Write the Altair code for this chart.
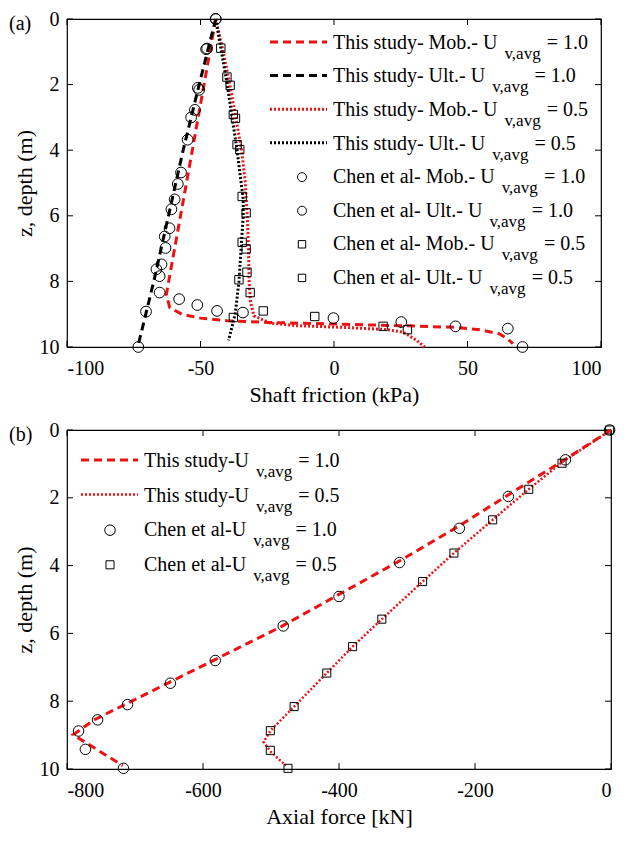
import altair as alt
import pandas as pd

FONT = "Liberation Serif"
RED = "#ee1111"
BLACK = "#000000"

# ---------------- Panel (a): shaft friction ----------------
a_xticks = [-100, -50, 0, 50, 100]
a_zticks = [0, 2, 4, 6, 8, 10]

a_mob10_x = [-44.3, -53.5, -62.8, -61.5, -57, -50, -40, -25, 0, 25, 45, 55, 62, 65, 67]
a_mob10_z = [0, 4.2, 8.4, 8.8, 9.0, 9.12, 9.2, 9.25, 9.3, 9.35, 9.4, 9.48, 9.6, 9.75, 9.9]

a_ult10_x = [-44.3, -50.5, -56.5, -62, -67.5, -73.5]
a_ult10_z = [0, 2, 4, 6, 8, 10]

a_mob05_x = [-44.3, -41.5, -39, -36.8, -34.6, -33.2, -32.5, -32, -31.8, -31.3, -30, -24, -14, 3, 20, 26, 31, 34]
a_mob05_z = [0, 1, 2, 3, 4, 5, 6, 7, 8, 8.6, 9.05, 9.27, 9.35, 9.4, 9.47, 9.55, 9.8, 10]

a_ult05_x = [-44.3, -40, -36.3, -34, -34, -34.8, -35.6, -37, -39.5]
a_ult05_z = [0, 2, 4, 5.5, 6, 7, 8, 9, 9.8]

a_chen_mob10_x = [-44.3, -47.5, -51, -53.5, -57.3, -60.9, -63.1, -65.3, -65.3, -58, -51.2, -43.8, -34.1, -0.2, 25.2, 45.5, 65.1, 70.6]
a_chen_mob10_z = [0, 0.9, 2.1, 3.0, 4.68, 5.8, 6.98, 7.84, 8.34, 8.54, 8.72, 8.9, 8.95, 9.12, 9.24, 9.37, 9.44, 10]

a_chen_ult10_x = [-44.3, -47.9, -50.5, -52.1, -54.8, -58.5, -59.7, -61.6, -63.4, -64.6, -66.5, -70.4, -73.3]
a_chen_ult10_z = [0, 0.92, 2.16, 2.77, 3.68, 5.03, 5.5, 6.38, 6.63, 7.48, 7.63, 8.92, 10]

a_chen_mob05_x = [-42.4, -38.9, -36.9, -35.3, -32.9, -32.9, -32.6, -31.4, -26.5, -7.2, 18.4, 27.5]
a_chen_mob05_z = [0.89, 2.02, 3.03, 3.98, 5.91, 7.01, 7.72, 8.34, 8.9, 9.07, 9.37, 9.47]

a_chen_ult05_x = [-40.1, -37.7, -36.3, -34.4, -34.4, -35.6, -37.7]
a_chen_ult05_z = [1.77, 2.91, 3.83, 5.41, 6.81, 7.95, 9.1]

a_series = ["a_mob10", "a_ult10", "a_mob05", "a_ult05"]
a_main = ["This study- Mob.- U", "This study- Ult.- U", "This study- Mob.- U", "This study- Ult.- U",
          "Chen et al- Mob.- U", "Chen et al- Ult.- U", "Chen et al- Mob.- U", "Chen et al- Ult.- U"]
a_tail = ["= 1.0", "= 1.0", "= 0.5", "= 0.5", "= 1.0", "= 1.0", "= 0.5", "= 0.5"]

# ---------------- Panel (b): axial force ----------------
b_xticks = [-800, -600, -400, -200, 0]
b_zticks = [0, 2, 4, 6, 8, 10]

b_u10_x = [0, -70, -150, -225, -310, -400, -485, -580, -650, -710, -760, -791, -774, -718]
b_u10_z = [0, 0.9, 1.9, 2.85, 3.85, 4.85, 5.8, 6.75, 7.45, 8.05, 8.55, 8.99, 9.2, 9.9]

b_u05_x = [0, -72, -121, -174, -231, -277, -337, -380, -418, -466, -500, -511, -500, -478]
b_u05_z = [0, 0.95, 1.75, 2.65, 3.63, 4.47, 5.58, 6.39, 7.17, 8.16, 8.85, 9.2, 9.5, 9.9]

b_chen10_x = [-2, -67, -151, -223, -311, -400, -482, -582, -648, -711, -755, -783, -773, -717]
b_chen10_z = [0, 0.88, 1.96, 2.9, 3.91, 4.91, 5.78, 6.8, 7.47, 8.1, 8.55, 8.88, 9.42, 9.98]

b_chen05_x = [-2, -72, -121, -174, -231, -277, -337, -380, -418, -466, -501, -501, -475]
b_chen05_z = [0, 0.98, 1.75, 2.65, 3.63, 4.47, 5.58, 6.39, 7.17, 8.16, 8.87, 9.45, 9.98]

b_series = ["b_u10", "b_u05"]
b_main = ["This study-U", "This study-U", "Chen et al-U", "Chen et al-U"]
b_tail = ["= 1.0", "= 0.5", "= 1.0", "= 0.5"]

SUB = "v,avg"

# ---------------- helpers ----------------
TW = {' ': 250, '-': 333, '.': 250, ',': 250, '=': 564, 'A': 722, 'C': 667, 'M': 889, 'T': 611,
      'U': 722, 'a': 444, 'b': 500, 'd': 500, 'e': 444, 'h': 500, 'i': 278, 'l': 278, 'n': 500,
      'o': 500, 's': 389, 't': 278, 'u': 500, 'y': 500, 'v': 500, 'g': 500}


def tw(s, fs):
    return sum(TW.get(c, 500) for c in s) / 1000.0 * fs


FS_MAIN, FS_SUB = 20, 17


def lines_df(xs_list, zs_list, names):
    rows = []
    for xs, zs, n in zip(xs_list, zs_list, names):
        for i, (x, z) in enumerate(zip(xs, zs)):
            rows.append({"x": x, "z": z, "series": n, "i": i})
    return pd.DataFrame(rows)


def pts_df(xs_list, zs_list):
    rows = []
    for xs, zs in zip(xs_list, zs_list):
        for x, z in zip(xs, zs):
            rows.append({"x": x, "z": z})
    return pd.DataFrame(rows)


def legend_text(mains, tails, x0, y0, dy):
    main_rows, sub_rows = [], []
    for r, (m, t) in enumerate(zip(mains, tails)):
        yb = y0 + r * dy
        sx = x0 + tw(m, FS_MAIN) + 7
        tx = sx + tw(SUB, FS_SUB) + tw(" ", FS_MAIN)
        main_rows.append({"px": x0, "py": yb, "txt": m})
        main_rows.append({"px": tx, "py": yb, "txt": t})
        sub_rows.append({"px": sx, "py": yb + 10, "txt": SUB})
    return pd.DataFrame(main_rows), pd.DataFrame(sub_rows)


AX = dict(labelFont=FONT, labelFontSize=20, labelColor=BLACK, titleFont=FONT, titleFontSize=22,
          titleFontWeight="normal", titleColor=BLACK, domain=False, ticks=False, grid=False,
          labelExpr="toString(datum.value)")


def panel(W, H, xdom, xticks, zticks, xtitle, line_data, series, colors, dashes, widths,
          circ, sq, leg_lines, leg_circ, leg_sq, leg_main, leg_sub, tag, msize_c, msize_s,
          lmsize_c, lmsize_s):
    xs = alt.Scale(domain=xdom, nice=False, zero=False)
    ys = alt.Scale(domain=[0, 10], reverse=True, nice=False, zero=False)
    xaxis = alt.Axis(values=xticks, title=xtitle, labelPadding=11, titlePadding=6, **AX)
    yaxis = alt.Axis(values=zticks, title="z, depth (m)", labelPadding=8, titlePadding=3, **AX)
    X = lambda: alt.X("x:Q", scale=xs, axis=xaxis)
    Y = lambda: alt.Y("z:Q", scale=ys, axis=yaxis)
    col = alt.Color("series:N", scale=alt.Scale(domain=series, range=colors), legend=None)
    dash = alt.StrokeDash("series:N", scale=alt.Scale(domain=series, range=dashes), legend=None)
    wid = alt.StrokeWidth("series:N", scale=alt.Scale(domain=series, range=widths), legend=None)

    lines = alt.Chart(line_data).mark_line(strokeCap="butt").encode(
        x=X(), y=Y(), color=col, strokeDash=dash, strokeWidth=wid, order="i:Q")
    circles = alt.Chart(circ).mark_point(shape="circle", filled=False, color=BLACK,
                                         strokeWidth=1, size=msize_c, opacity=1).encode(x=X(), y=Y())
    squares = alt.Chart(sq).mark_point(shape="square", filled=False, color=BLACK,
                                       strokeWidth=1, size=msize_s, opacity=1).encode(x=X(), y=Y())

    xt = pd.DataFrame({"x": xticks})
    zt = pd.DataFrame({"z": zticks})
    tk = dict(color=BLACK, strokeWidth=1)
    t1 = alt.Chart(xt).mark_rule(**tk).encode(x=X(), y=alt.value(0), y2=alt.value(6))
    t2 = alt.Chart(xt).mark_rule(**tk).encode(x=X(), y=alt.value(H - 6), y2=alt.value(H))
    t3 = alt.Chart(zt).mark_rule(**tk).encode(y=Y(), x=alt.value(0), x2=alt.value(6))
    t4 = alt.Chart(zt).mark_rule(**tk).encode(y=Y(), x=alt.value(W - 6), x2=alt.value(W))

    PX = lambda f: alt.X(f, scale=None, axis=None)
    PY = lambda f: alt.Y(f, scale=None, axis=None)
    lg_lines = alt.Chart(leg_lines).mark_rule(strokeCap="butt").encode(
        x=PX("x1:Q"), x2="x2:Q", y=PY("py:Q"), color=col, strokeDash=dash, strokeWidth=wid)
    lg_c = alt.Chart(leg_circ).mark_point(shape="circle", filled=False, color=BLACK, strokeWidth=1,
                                          size=lmsize_c, opacity=1).encode(x=PX("px:Q"), y=PY("py:Q"))
    lg_s = alt.Chart(leg_sq).mark_point(shape="square", filled=False, color=BLACK, strokeWidth=1,
                                        size=lmsize_s, opacity=1).encode(x=PX("px:Q"), y=PY("py:Q"))
    lg_m = alt.Chart(leg_main).mark_text(font=FONT, fontSize=FS_MAIN, align="left",
                                         baseline="alphabetic", color=BLACK).encode(
        x=PX("px:Q"), y=PY("py:Q"), text="txt:N")
    lg_sb = alt.Chart(leg_sub).mark_text(font=FONT, fontSize=FS_SUB, align="left",
                                         baseline="alphabetic", color=BLACK).encode(
        x=PX("px:Q"), y=PY("py:Q"), text="txt:N")
    lab = alt.Chart(pd.DataFrame({"t": [tag]})).mark_text(
        font=FONT, fontSize=20, align="left", baseline="middle", color=BLACK).encode(
        text="t:N", x=alt.value(-58), y=alt.value(5))

    return alt.layer(t1, t2, t3, t4, lines, circles, squares, lg_lines, lg_c, lg_s,
                     lg_m, lg_sb, lab).properties(width=W, height=H)


# ---- panel (a) ----
WA, HA = 534, 328
a_lines = lines_df([a_mob10_x, a_ult10_x, a_mob05_x, a_ult05_x],
                   [a_mob10_z, a_ult10_z, a_mob05_z, a_ult05_z], a_series)
a_circ = pts_df([a_chen_mob10_x, a_chen_ult10_x], [a_chen_mob10_z, a_chen_ult10_z])
a_sq = pts_df([a_chen_mob05_x, a_chen_ult05_x], [a_chen_mob05_z, a_chen_ult05_z])
a_y0, a_dy = 29.7, 33.6
a_lx = 203
a_leg_lines = pd.DataFrame([{"x1": a_lx, "x2": a_lx + 57, "py": a_y0 - 6.7 + r * a_dy, "series": s}
                            for r, s in enumerate(a_series)])
a_leg_c = pd.DataFrame([{"px": a_lx + 32, "py": a_y0 - 6 + r * a_dy} for r in (4, 5)])
a_leg_s = pd.DataFrame([{"px": a_lx + 32, "py": a_y0 - 6 + r * a_dy} for r in (6, 7)])
a_leg_m, a_leg_sb = legend_text(a_main, a_tail, a_lx + 63, a_y0, a_dy)

top = panel(WA, HA, [-100, 100], a_xticks, a_zticks, "Shaft friction (kPa)", a_lines, a_series,
            [RED, BLACK, RED, BLACK], [[8, 5], [8, 5], [2, 2], [2, 2]], [3, 3, 2.5, 2.5],
            a_circ, a_sq, a_leg_lines, a_leg_c, a_leg_s, a_leg_m, a_leg_sb, "(a)",
            115, 70, 80, 55)

# ---- panel (b) ----
WB, HB = 544, 339
b_lines = lines_df([b_u10_x, b_u05_x], [b_u10_z, b_u05_z], b_series)
b_circ = pts_df([b_chen10_x], [b_chen10_z])
b_sq = pts_df([b_chen05_x], [b_chen05_z])
b_y0, b_dy = 37, 34.6
b_leg_lines = pd.DataFrame([{"x1": 14, "x2": 71, "py": b_y0 - 7 + r * b_dy, "series": s}
                            for r, s in enumerate(b_series)])
b_leg_c = pd.DataFrame([{"px": 43, "py": b_y0 - 6 + 2 * b_dy}])
b_leg_s = pd.DataFrame([{"px": 43, "py": b_y0 - 6 + 3 * b_dy}])
b_leg_m, b_leg_sb = legend_text(b_main, b_tail, 77, b_y0, b_dy)

bottom = panel(WB, HB, [-800, 0], b_xticks, b_zticks, "Axial force [kN]", b_lines, b_series,
               [RED, RED], [[8, 5], [2, 2]], [3, 2.5],
               b_circ, b_sq, b_leg_lines, b_leg_c, b_leg_s, b_leg_m, b_leg_sb, "(b)",
               110, 65, 110, 65)

chart = alt.vconcat(top, bottom, spacing=13).resolve_scale(
    color="independent", strokeDash="independent", strokeWidth="independent"
).properties(
    padding={"left": 0, "top": 0, "right": 0, "bottom": 0}, background="white"
).configure(font=FONT).configure_view(stroke=BLACK, strokeWidth=1.2)

chart.save("out.html", embed_options={"renderer": "svg", "actions": False})
